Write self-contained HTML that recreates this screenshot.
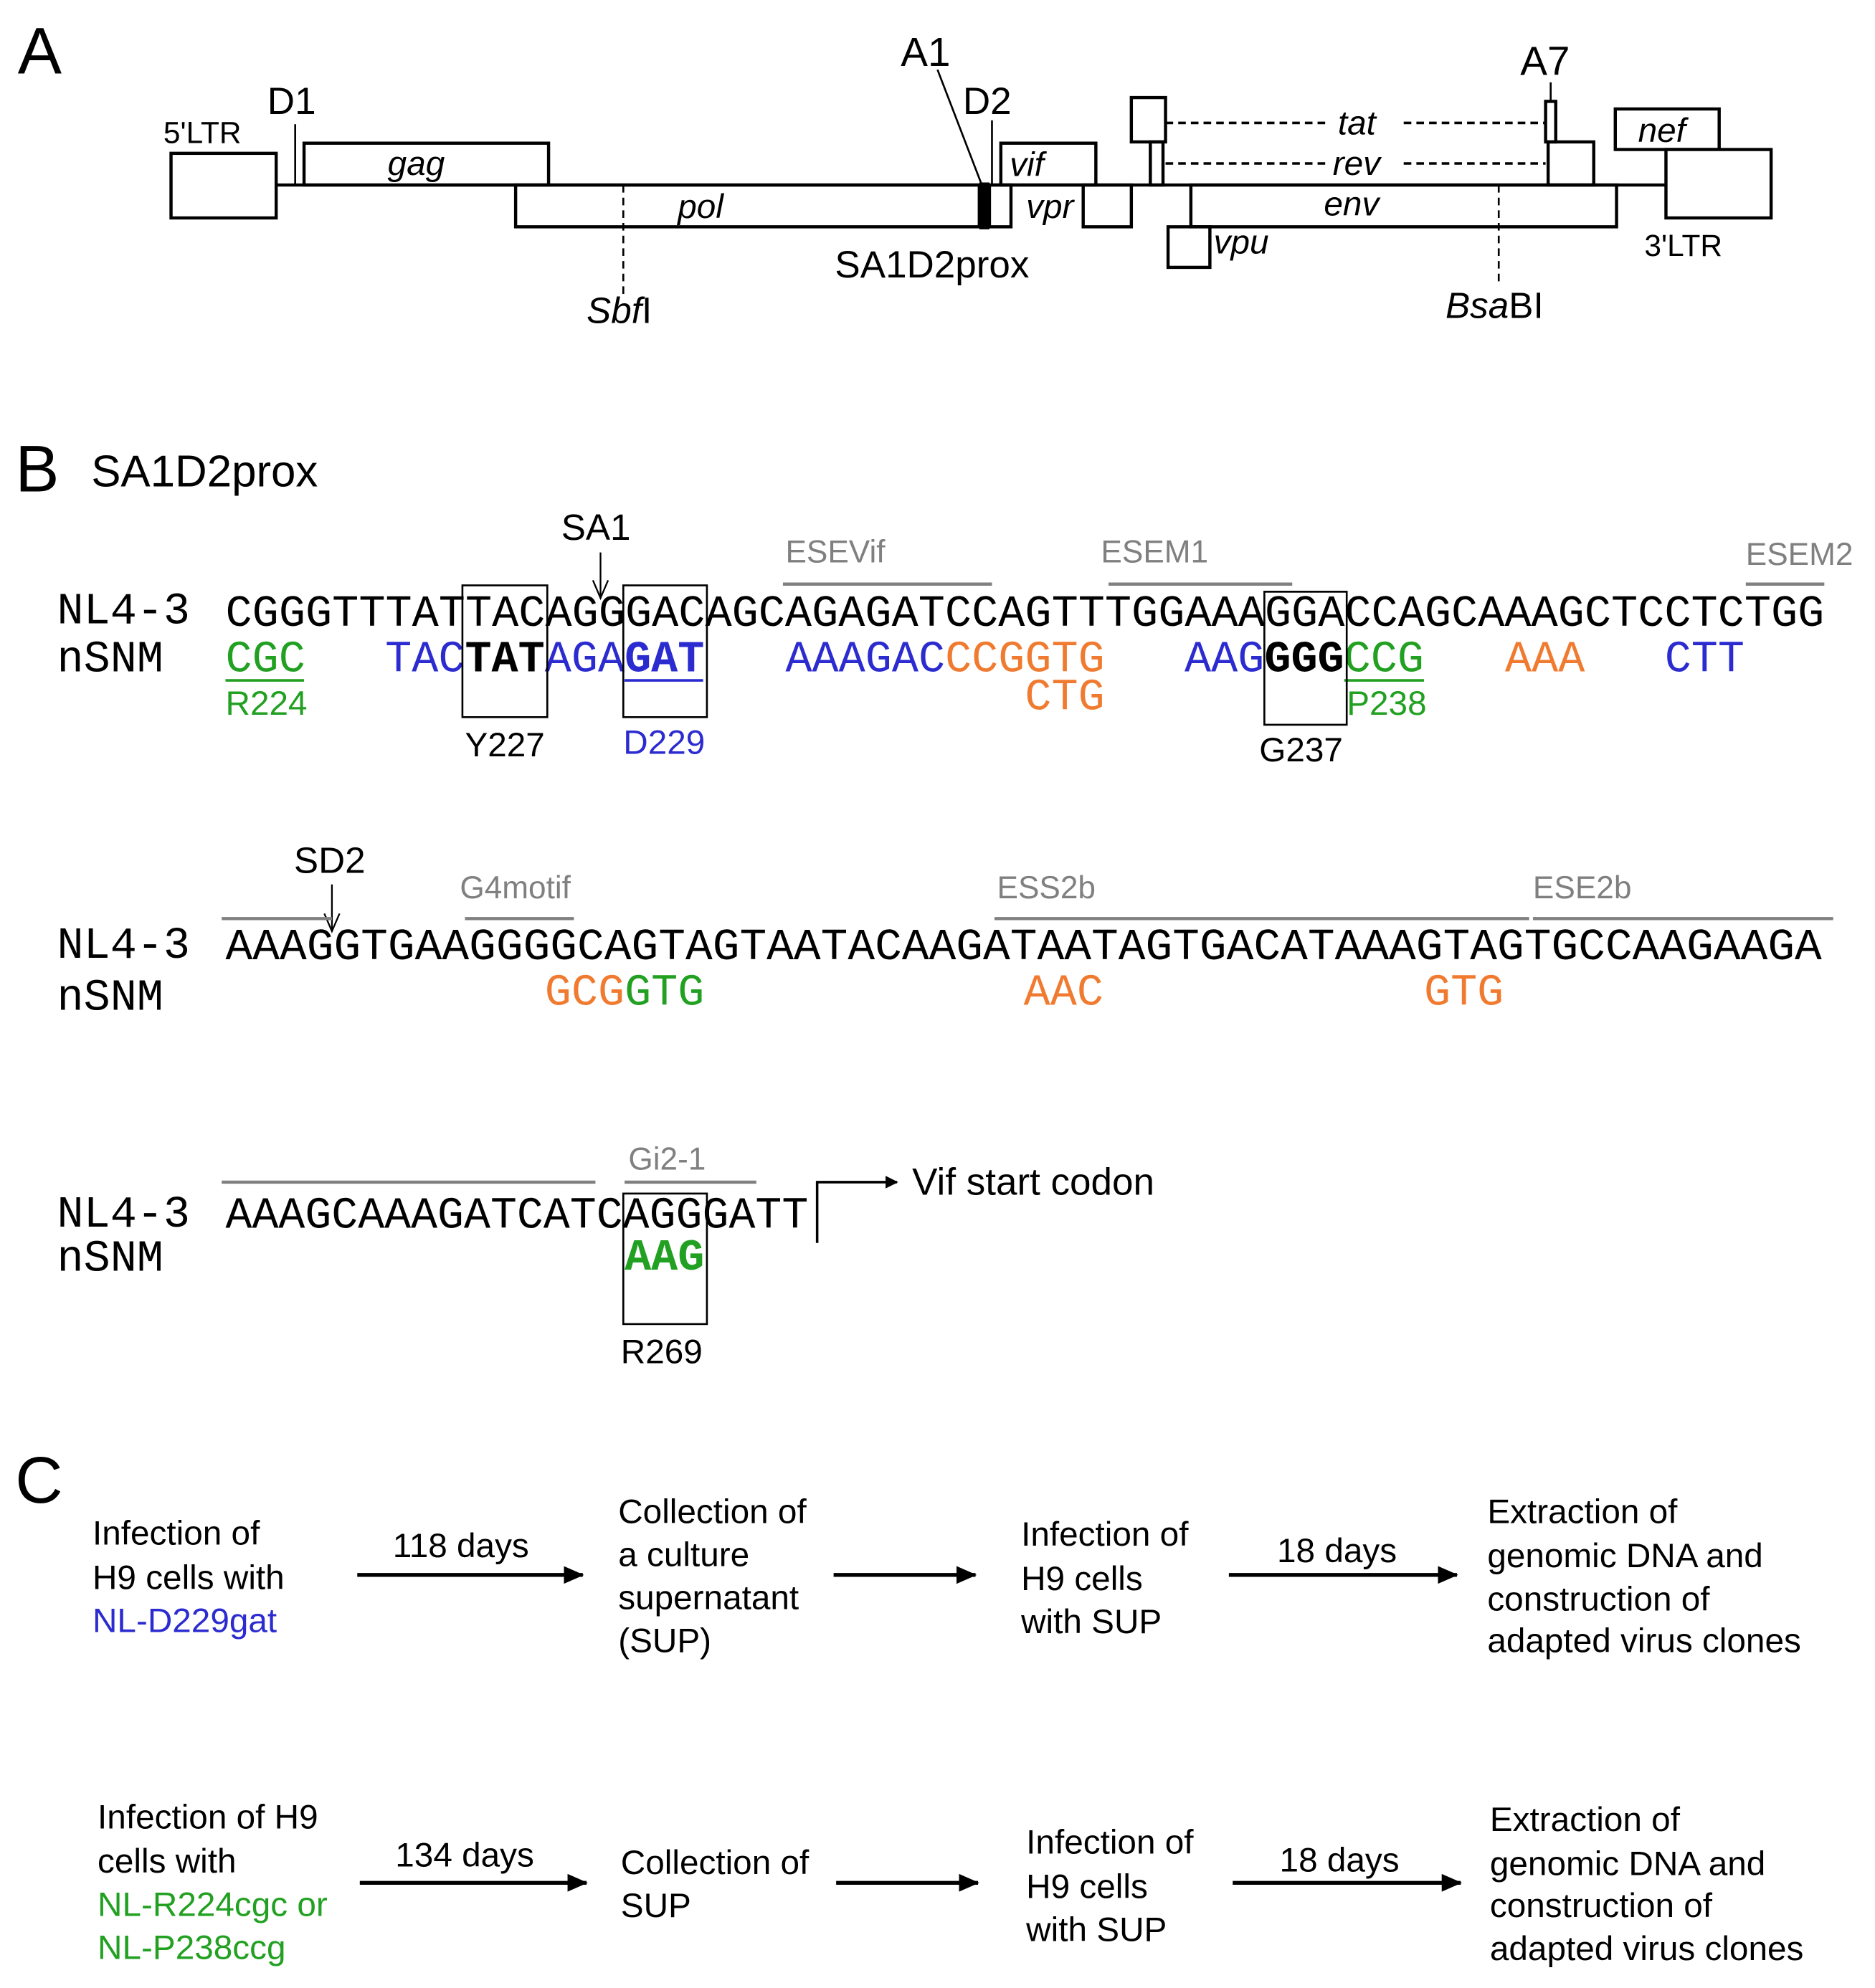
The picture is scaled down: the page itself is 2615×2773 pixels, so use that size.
<!DOCTYPE html>
<html><head><meta charset="utf-8"><style>
html,body{margin:0;padding:0;background:#fff}
svg{display:block}
.s{font-family:"Liberation Sans",Arial,sans-serif}
.m{font-family:"Liberation Mono","Courier New",monospace;font-size:35px}
.i{font-style:italic}
</style></head><body>
<svg width="2615" height="2773" viewBox="0 0 1480 1569" preserveAspectRatio="none" xmlns="http://www.w3.org/2000/svg">
<defs>
<marker id="ah" markerWidth="10" markerHeight="10" refX="9" refY="5" orient="auto" markerUnits="userSpaceOnUse"><path d="M0,0 L10,5 L0,10 z" fill="#000"/></marker>
<marker id="ab" markerWidth="16" markerHeight="16" refX="15" refY="8" orient="auto" markerUnits="userSpaceOnUse"><path d="M0,1 L16,8 L0,15 z" fill="#000"/></marker>
</defs>

<!-- Panel A -->
<text x="14" y="58" class="s" font-size="52">A</text>
<g fill="none" stroke="#000" stroke-width="2.5">
<line x1="218" y1="146" x2="1315" y2="146"/>
<rect x="135" y="121" width="83" height="51" fill="#fff"/>
<rect x="240" y="113" width="193" height="33"/>
<rect x="407" y="146" width="366" height="33"/>
<rect x="781" y="146" width="17" height="33"/>
<rect x="790" y="113" width="75" height="33"/>
<rect x="855" y="146" width="38" height="33"/>
<rect x="893" y="77" width="27" height="35"/>
<rect x="908" y="112" width="10" height="34"/>
<rect x="1220" y="80" width="8" height="32"/>
<rect x="1222" y="112" width="36" height="34"/>
<rect x="940" y="146" width="336" height="33"/>
<rect x="922" y="179" width="33" height="32"/>
<rect x="1275" y="86" width="82" height="32"/>
<rect x="1315" y="118" width="83" height="54" fill="#fff"/>
</g>
<rect x="773" y="144" width="8" height="37" fill="#000"/>
<g stroke="#000" stroke-width="1.5">
<line x1="233" y1="98" x2="233" y2="146"/>
<line x1="740" y1="55" x2="775" y2="146"/>
<line x1="783" y1="95" x2="783" y2="146"/>
<line x1="1224" y1="65" x2="1224" y2="80"/>
<line x1="492" y1="146" x2="492" y2="232" stroke-dasharray="6,4"/>
<line x1="1183" y1="146" x2="1183" y2="225" stroke-dasharray="6,4"/>
<line x1="920" y1="97" x2="1050" y2="97" stroke-dasharray="6,4" stroke-width="2"/>
<line x1="1108" y1="97" x2="1220" y2="97" stroke-dasharray="6,4" stroke-width="2"/>
<line x1="920" y1="129" x2="1050" y2="129" stroke-dasharray="6,4" stroke-width="2"/>
<line x1="1108" y1="129" x2="1220" y2="129" stroke-dasharray="6,4" stroke-width="2"/>
</g>
<g class="s" font-size="27">
<text x="129" y="113" font-size="24">5'LTR</text>
<text x="211" y="90" font-size="30">D1</text>
<text x="711" y="52" font-size="32">A1</text>
<text x="760" y="90" font-size="30">D2</text>
<text x="1200" y="59" font-size="32">A7</text>
<text x="306" y="138" class="i">gag</text>
<text x="535" y="172" class="i">pol</text>
<text x="797" y="139" class="i">vif</text>
<text x="810" y="172" class="i">vpr</text>
<text x="1056" y="106" class="i">tat</text>
<text x="1052" y="138" class="i">rev</text>
<text x="1045" y="170" class="i">env</text>
<text x="958" y="200" class="i">vpu</text>
<text x="1293" y="112" class="i">nef</text>
<text x="1298" y="202" font-size="24">3'LTR</text>
<text x="659" y="219" font-size="30">SA1D2prox</text>
<text x="463" y="255" font-size="29"><tspan class="i">Sbf</tspan>I</text>
<text x="1141" y="251" font-size="29"><tspan class="i">Bsa</tspan>BI</text>
</g>

<!-- Panel B -->
<text x="12" y="388" class="s" font-size="52">B</text>
<text x="72" y="384" class="s" font-size="35">SA1D2prox</text>

<!-- row 1 -->
<text x="443" y="426" class="s" font-size="29">SA1</text>
<g stroke="#000" stroke-width="1.3" fill="none">
<line x1="474" y1="436" x2="474" y2="472"/>
<path d="M468,458 L474,472 L480,458"/>
<line x1="262" y1="698" x2="262" y2="735"/>
<path d="M256,721 L262,735 L268,721"/>
</g>
<g fill="#808080" class="s" font-size="25">
<text x="620" y="444">ESEVif</text>
<text x="869" y="444">ESEM1</text>
<text x="1378" y="446">ESEM2</text>
</g>
<g stroke="#808080" stroke-width="2.5">
<line x1="618" y1="461" x2="783" y2="461"/>
<line x1="875" y1="461" x2="1020" y2="461"/>
<line x1="1378" y1="461" x2="1440" y2="461"/>
</g>
<text x="45" y="492" class="m" font-size="32">NL4-3</text>
<text x="178" y="494" class="m" textLength="1262" lengthAdjust="spacingAndGlyphs">CGGGTTTATTACAGGGACAGCAGAGATCCAGTTTGGAAAGGACCAGCAAAGCTCCTCTGG</text>
<text x="45" y="530" class="m" font-size="32">nSNM</text>
<g class="m">
<text x="178" y="530" fill="#22a022">CGC</text>
<text x="304" y="530" fill="#2b2bd0">TAC</text>
<text x="367" y="530" fill="#000" font-weight="bold">TAT</text>
<text x="430" y="530" fill="#2b2bd0">AGA</text>
<text x="493" y="530" fill="#2b2bd0" font-weight="bold">GAT</text>
<text x="620" y="530" fill="#2b2bd0">AAAGAC</text>
<text x="746" y="530" fill="#f07b30">CCGGTG</text>
<text x="809" y="560" fill="#f07b30">CTG</text>
<text x="935" y="530" fill="#2b2bd0">AAG</text>
<text x="998" y="530" fill="#000" font-weight="bold">GGG</text>
<text x="1061" y="530" fill="#22a022">CCG</text>
<text x="1188" y="530" fill="#f07b30">AAA</text>
<text x="1314" y="530" fill="#2b2bd0">CTT</text>
</g>
<line x1="178" y1="537" x2="240" y2="537" stroke="#22a022" stroke-width="2"/>
<line x1="493" y1="537" x2="555" y2="537" stroke="#2b2bd0" stroke-width="2"/>
<line x1="1061" y1="537" x2="1124" y2="537" stroke="#22a022" stroke-width="2"/>
<g fill="none" stroke="#000" stroke-width="1.5">
<rect x="365" y="462" width="67" height="104"/>
<rect x="492" y="462" width="66" height="104"/>
<rect x="998" y="467" width="65" height="105"/>
</g>
<g class="s" font-size="27">
<text x="178" y="564" fill="#22a022">R224</text>
<text x="1063" y="564" fill="#22a022">P238</text>
<text x="367" y="597">Y227</text>
<text x="492" y="595" fill="#2b2bd0">D229</text>
<text x="994" y="601">G237</text>
</g>

<!-- row 2 -->
<text x="232" y="689" class="s" font-size="29">SD2</text>
<g fill="#808080" class="s" font-size="25">
<text x="363" y="709">G4motif</text>
<text x="787" y="709">ESS2b</text>
<text x="1210" y="709">ESE2b</text>
</g>
<g stroke="#808080" stroke-width="2.5">
<line x1="175" y1="725" x2="262" y2="725"/>
<line x1="367" y1="725" x2="453" y2="725"/>
<line x1="785" y1="725" x2="1207" y2="725"/>
<line x1="1210" y1="725" x2="1447" y2="725"/>
</g>
<text x="45" y="756" class="m" font-size="32">NL4-3</text>
<text x="178" y="757" class="m" textLength="1260" lengthAdjust="spacingAndGlyphs">AAAGGTGAAGGGGCAGTAGTAATACAAGATAATAGTGACATAAAGTAGTGCCAAGAAGA</text>
<text x="45" y="797" class="m" font-size="32">nSNM</text>
<g class="m">
<text x="430" y="793" fill="#f07b30">GCG</text>
<text x="493" y="793" fill="#22a022">GTG</text>
<text x="808" y="793" fill="#f07b30">AAC</text>
<text x="1124" y="793" fill="#f07b30">GTG</text>
</g>

<!-- row 3 -->
<line x1="175" y1="933" x2="470" y2="933" stroke="#808080" stroke-width="2.5"/>
<line x1="493" y1="933" x2="597" y2="933" stroke="#808080" stroke-width="2.5"/>
<text x="496" y="923" fill="#808080" class="s" font-size="25">Gi2-1</text>
<text x="45" y="968" class="m" font-size="32">NL4-3</text>
<text x="178" y="969" class="m" textLength="460" lengthAdjust="spacingAndGlyphs">AAAGCAAAGATCATCAGGGATT</text>
<text x="45" y="1003" class="m" font-size="32">nSNM</text>
<text x="493" y="1002" class="m" fill="#22a022" font-weight="bold">AAG</text>
<rect x="492" y="942" width="66" height="103" fill="none" stroke="#000" stroke-width="1.5"/>
<text x="490" y="1076" class="s" font-size="27">R269</text>
<path d="M645,981 L645,933 L708,933" fill="none" stroke="#000" stroke-width="2" marker-end="url(#ah)"/>
<text x="720" y="943" class="s" font-size="30">Vif start codon</text>

<!-- Panel C -->
<text x="12" y="1186" class="s" font-size="52">C</text>
<g class="s" font-size="27">
<text x="73" y="1219">Infection of</text>
<text x="73" y="1254">H9 cells with</text>
<text x="73" y="1288" fill="#2b2bd0">NL-D229gat</text>
<text x="310" y="1229">118 days</text>
<text x="488" y="1202">Collection of</text>
<text x="488" y="1236">a culture</text>
<text x="488" y="1270">supernatant</text>
<text x="488" y="1304">(SUP)</text>
<text x="806" y="1220">Infection of</text>
<text x="806" y="1255">H9 cells</text>
<text x="806" y="1289">with SUP</text>
<text x="1008" y="1233">18 days</text>
<text x="1174" y="1202">Extraction of</text>
<text x="1174" y="1237">genomic DNA and</text>
<text x="1174" y="1271">construction of</text>
<text x="1174" y="1304">adapted virus clones</text>

<text x="77" y="1443">Infection of H9</text>
<text x="77" y="1478">cells with</text>
<text x="77" y="1512" fill="#22a022">NL-R224cgc or</text>
<text x="77" y="1546" fill="#22a022">NL-P238ccg</text>
<text x="312" y="1473">134 days</text>
<text x="490" y="1479">Collection of</text>
<text x="490" y="1513">SUP</text>
<text x="810" y="1463">Infection of</text>
<text x="810" y="1498">H9 cells</text>
<text x="810" y="1532">with SUP</text>
<text x="1010" y="1477">18 days</text>
<text x="1176" y="1445">Extraction of</text>
<text x="1176" y="1480">genomic DNA and</text>
<text x="1176" y="1513">construction of</text>
<text x="1176" y="1547">adapted virus clones</text>
</g>
<g stroke="#000" stroke-width="3">
<line x1="282" y1="1243" x2="460" y2="1243" marker-end="url(#ab)"/>
<line x1="658" y1="1243" x2="770" y2="1243" marker-end="url(#ab)"/>
<line x1="970" y1="1243" x2="1150" y2="1243" marker-end="url(#ab)"/>
<line x1="284" y1="1486" x2="463" y2="1486" marker-end="url(#ab)"/>
<line x1="660" y1="1486" x2="772" y2="1486" marker-end="url(#ab)"/>
<line x1="973" y1="1486" x2="1153" y2="1486" marker-end="url(#ab)"/>
</g>
</svg>
</body></html>
